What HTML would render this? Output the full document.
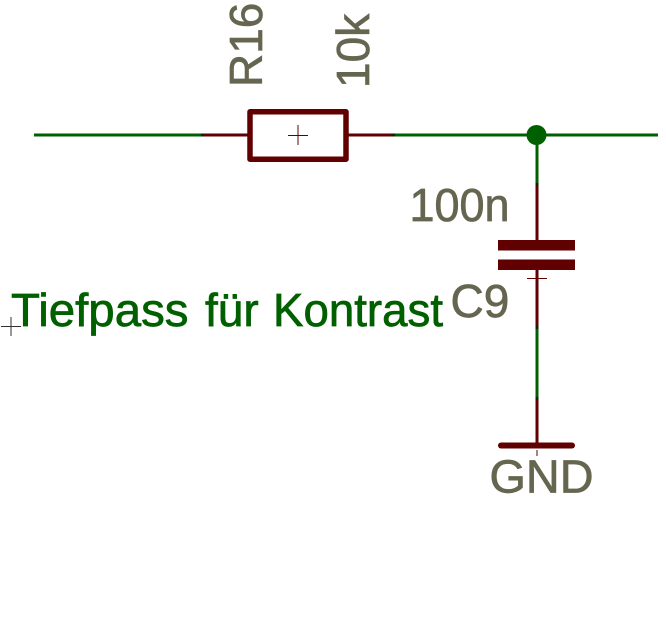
<!DOCTYPE html>
<html><head><meta charset="utf-8"><style>html,body{margin:0;padding:0;background:#fff}svg{display:block}text{font-family:"Liberation Sans",Arial,sans-serif;font-size:46px;stroke-width:.7}</style></head><body>
<svg width="666" height="620" viewBox="0 0 666 620" xmlns="http://www.w3.org/2000/svg">
<rect width="666" height="620" fill="#fff"/>
<g fill="none" stroke-width="3">
<path d="M34 135H202M394 135H658M537 135V183M537 328V398" stroke="#006000"/>
<path d="M202 135H248M348 135H394M537 184V240M537 270V328M537 398V446" stroke="#600000"/>
<path d="M201 135H204M392 135H395M537 183V186M537 326V329M537 397V400" stroke="#102008"/>
</g>
<rect x="250" y="111.800" width="96" height="47.400" fill="none" stroke="#600000" stroke-width="5.500" stroke-linejoin="round"/>
<path d="M288 135.500H308M298 125V145M527 278.500H547M537 268V288M537 450V456" fill="none" stroke="#600000" stroke-width="1"/>
<path d="M1 326.500H21M11 317V336" fill="none" stroke="#303030" stroke-width="1"/>
<circle cx="536.500" cy="135" r="10" fill="#006000"/>
<rect x="498" y="240" width="77" height="10.500" fill="#600000"/>
<rect x="498" y="259.500" width="77" height="10.500" fill="#600000"/>
<path d="M501 445.500H572" stroke="#600000" stroke-width="6" stroke-linecap="round" fill="none"/>
<g fill="#666650" stroke="#666650">
<text transform="translate(262 87) rotate(-90)">R16</text>
<text transform="translate(369 88) rotate(-90)">10k</text>
<text x="409.500" y="221" textLength="100" lengthAdjust="spacingAndGlyphs">100n</text>
<text x="450.500" y="317">C9</text>
<text x="489.500" y="492.500" textLength="104" lengthAdjust="spacingAndGlyphs">GND</text>
</g>
<g fill="#006000" stroke="#006000">
<text x="11" y="326" textLength="177.500" lengthAdjust="spacingAndGlyphs">Tiefpass</text>
<text x="205" y="326">für</text>
<text x="273" y="326" textLength="170" lengthAdjust="spacingAndGlyphs">Kontrast</text>
</g>
</svg>
</body></html>
